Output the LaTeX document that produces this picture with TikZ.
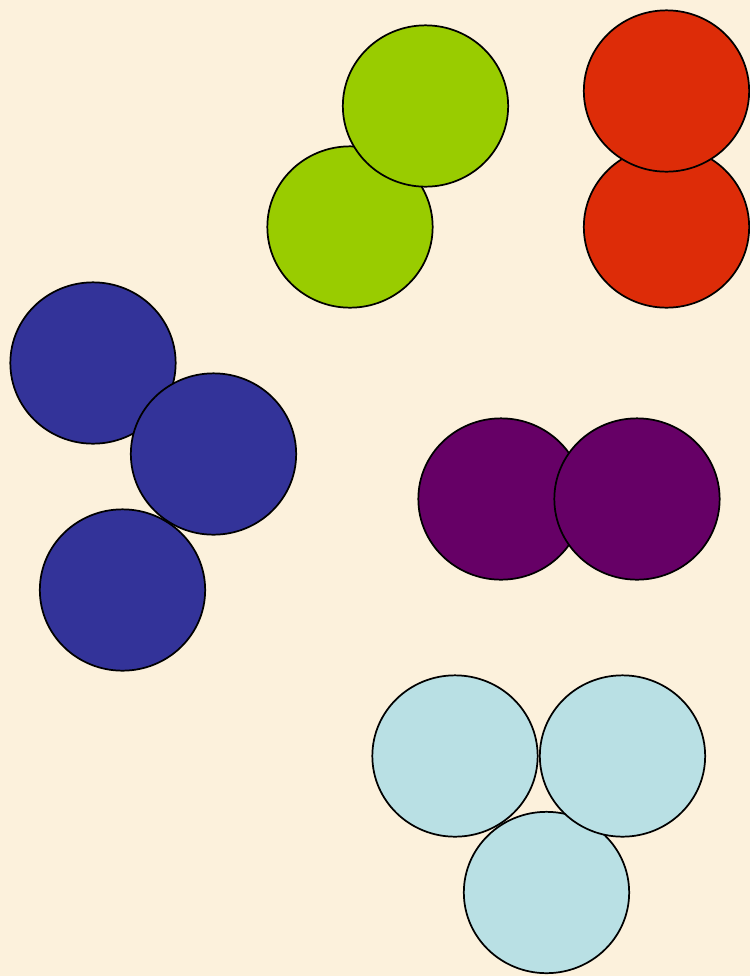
\documentclass[tikz,border=0pt]{standalone}
\usetikzlibrary{shapes.geometric}
\definecolor{bg}{HTML}{FCF1DC}
\definecolor{cgreen}{HTML}{99CC00}
\definecolor{cred}{HTML}{DD2C08}
\definecolor{cblue}{HTML}{333399}
\definecolor{cpurple}{HTML}{660066}
\definecolor{clight}{HTML}{B9E0E4}
\tikzset{
  ball/.style={ellipse, draw=black, line width=1.3pt, inner sep=0pt,
    minimum width=124pt, minimum height=121pt}
}
\begin{document}
\begin{tikzpicture}[x=0.75pt,y=-0.75pt]
\fill[bg] (0,0) rectangle (750,976);
\useasboundingbox (0,0) rectangle (750,976);
% green
\node[ball, fill=cgreen] (g2) at (350,227) {};
\node[ball, fill=cgreen] (g1) at (425.5,106) {};
% red
\node[ball, fill=cred] (r2) at (666.5,227) {};
\node[ball, fill=cred] (r1) at (666.5,91) {};
% blue
\node[ball, fill=cblue] (b1) at (93,363) {};
\node[ball, fill=cblue] (b3) at (122.5,590) {};
\node[ball, fill=cblue] (b2) at (213.5,454) {};
% purple
\node[ball, fill=cpurple] (p1) at (501,499) {};
\node[ball, fill=cpurple] (p2) at (637,499) {};
% light blue
\node[ball, fill=clight] (l3) at (546.5,892.5) {};
\node[ball, fill=clight] (l1) at (455,756) {};
\node[ball, fill=clight] (l2) at (622.5,756) {};
\end{tikzpicture}
\end{document}
